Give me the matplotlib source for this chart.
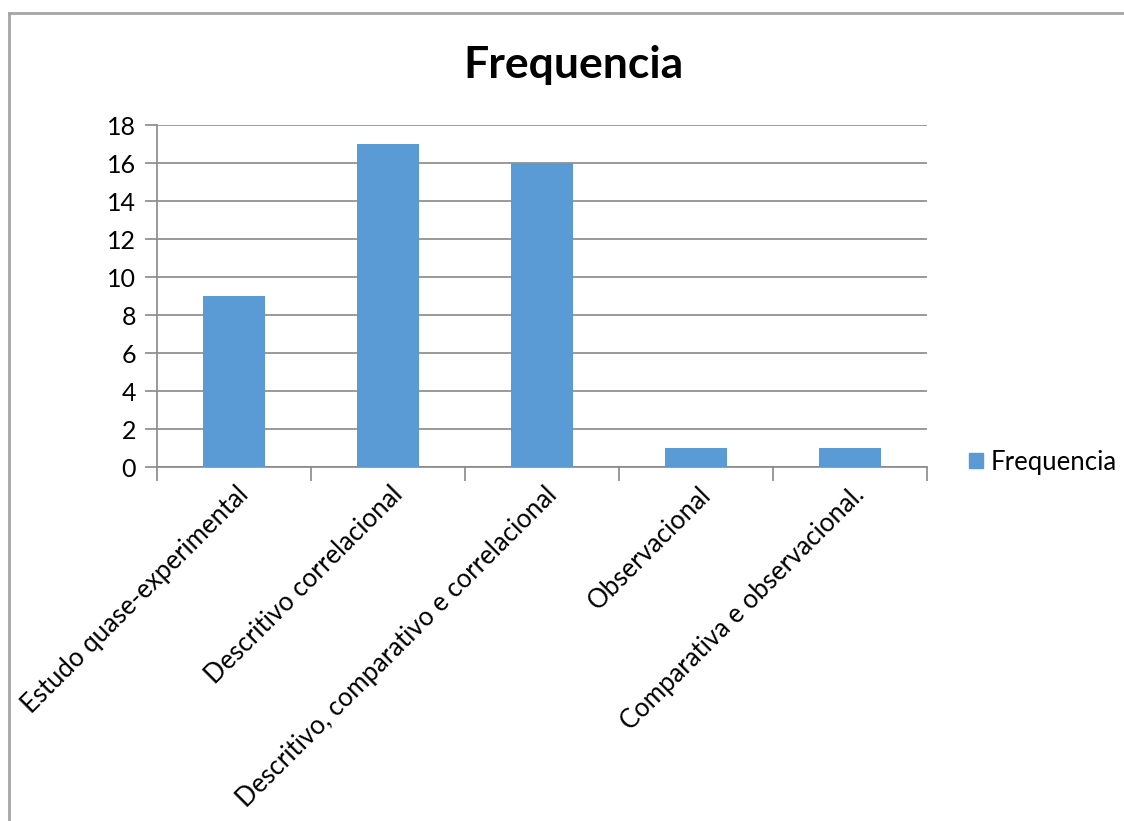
import matplotlib.pyplot as plt
from matplotlib.lines import Line2D
from matplotlib.patches import Patch

categorias = ["Estudo quase-experimental", "Descritivo correlacional",
              "Descritivo, comparativo e correlacional", "Observacional",
              "Comparativa e observacional."]
frequencia = [9, 17, 16, 1, 1]
y_ticks = [0, 2, 4, 6, 8, 10, 12, 14, 16, 18]

plt.rcParams['font.family'] = ['Lato', 'DejaVu Sans']
grey = '#898989'
azul = '#5B9BD5'

fig = plt.figure(figsize=(11.24, 8.21), dpi=100)
ax = fig.add_axes([157 / 1124, 1 - 467 / 821, 770 / 1124, 342 / 821])

x = range(len(categorias))
ax.bar(x, frequencia, width=0.4, color=azul, zorder=3)

ax.set_xlim(-0.5, len(categorias) - 0.5)
ax.set_ylim(0, 18)
ax.set_yticks(y_ticks)
ax.set_yticklabels([str(v) for v in y_ticks], fontsize=18)
ax.yaxis.grid(True, color=grey, linewidth=1.2, zorder=0)

# category ticks sit on the boundaries between groups
ax.set_xticks([i - 0.5 for i in range(len(categorias) + 1)])
ax.set_xticklabels([])
ax.tick_params(axis='x', length=10, width=1.2, color=grey, direction='out')
ax.tick_params(axis='y', length=9, width=1.2, color=grey, direction='out', pad=6)
for i, nome in enumerate(categorias):
    ax.text(i + 0.07, -1.25, nome, rotation=45, ha='right', va='center',
            rotation_mode='anchor', fontsize=18.5, transform=ax.transData)

for s in ['top', 'right']:
    ax.spines[s].set_visible(False)
for s in ['left', 'bottom']:
    ax.spines[s].set_color(grey)
    ax.spines[s].set_linewidth(1.2)

fig.text(573 / 1124, 1 - 65 / 821, "Frequencia", ha='center', va='center',
         fontsize=32, fontweight='bold')

fig.legend(handles=[Patch(color=azul, label='Frequencia')], loc='center left',
           bbox_to_anchor=(969 / 1124, 1 - 462 / 821), frameon=False,
           fontsize=18.5, handlelength=0.55, handleheight=0.55,
           handletextpad=0.3, borderpad=0, borderaxespad=0)

# outer chart border
fig.add_artist(Line2D([9 / 1124, 9 / 1124], [0, 1 - 13 / 821], color='#A6A6A6',
                      linewidth=2, transform=fig.transFigure))
fig.add_artist(Line2D([9 / 1124, 1], [1 - 13 / 821, 1 - 13 / 821], color='#A6A6A6',
                      linewidth=2, transform=fig.transFigure))

fig.savefig('out.png', dpi=100)
